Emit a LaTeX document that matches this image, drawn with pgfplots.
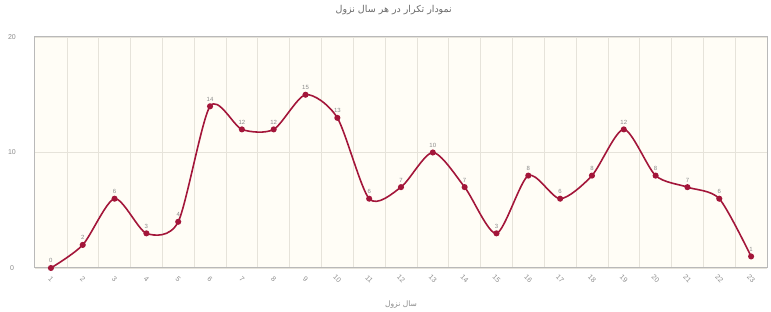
\documentclass[border=0pt]{standalone}
\usepackage{pgfplots}
\pgfplotsset{compat=1.18}
\usepackage{fontspec}
\setmainfont{Liberation Sans}
\newfontfamily\arabicfont[Script=Arabic]{DejaVu Sans}
\TeXXeTstate=1
\definecolor{linered}{HTML}{A3163A}
\definecolor{bgc}{HTML}{FFFDF6}
\definecolor{gridc}{HTML}{E6E3DA}
\definecolor{txtc}{HTML}{8A8A8A}
\definecolor{titc}{HTML}{6A6A6A}
\begin{document}
\begin{tikzpicture}
\useasboundingbox (-35pt,-44pt) rectangle (736pt,268pt);
\begin{axis}[
  at={(0,0)}, anchor=south west,
  scale only axis,
  width=732pt, height=231pt,
  xmin=0.5, xmax=23.5,
  ymin=0, ymax=20,
  xtick={1,...,23},
  minor xtick={1.5,2.5,...,22.5},
  ytick={0,10,20},
  xminorgrids=true, ymajorgrids=true,
  minor grid style={gridc, line width=0.6pt},
  major grid style={gridc, line width=0.6pt},
  axis background/.style={fill=bgc},
  axis line style={draw=gray!55, line width=1pt},
  tick style={draw=none},
  major tick length=0pt, minor tick length=0pt,
  ticklabel style={font=\fontsize{7}{8}\selectfont, text=txtc},
  xticklabel style={rotate=-45, anchor=center},
  xticklabel shift=11pt,
  xtick pos=bottom, ytick pos=left,
  yticklabel style={anchor=center, xshift=-23pt},
  /pgf/number format/assume math mode=true,
  clip=false,
  nodes near coords,
  every node near coord/.append style={font=\fontsize{6}{7}\selectfont, text=txtc, yshift=1pt},
  title={\arabicfont\fontsize{9.5}{11}\selectfont\color{titc}\beginR نمودار تکرار در هر سال نزول\endR},
  title style={at={(rel axis cs:0.49,1)}, anchor=center, yshift=21pt},
  xlabel={\arabicfont\fontsize{7.5}{8}\selectfont\color{txtc}\beginR سال نزول\endR},
  xlabel style={at={(rel axis cs:0.5,0)}, anchor=center, yshift=-37pt},
]
\addplot[color=linered, line width=1.6pt, smooth, tension=0.45, mark=*, mark size=2.2pt, mark options={fill=linered, draw=linered}]
coordinates {
(1,0) (2,2) (3,6) (4,3) (5,4) (6,14) (7,12) (8,12) (9,15) (10,13)
(11,6) (12,7) (13,10) (14,7) (15,3) (16,8) (17,6) (18,8) (19,12) (20,8)
(21,7) (22,6) (23,1)
};
\end{axis}
\end{tikzpicture}
\end{document}
